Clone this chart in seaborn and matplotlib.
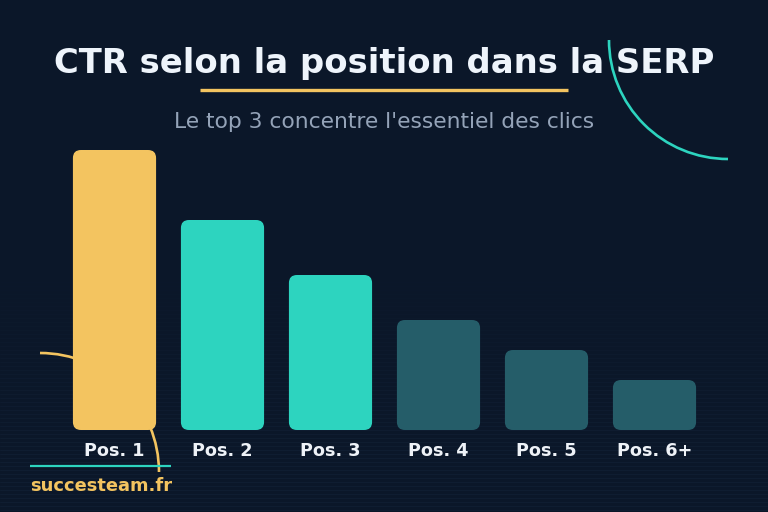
import numpy as np
import pandas as pd
import seaborn as sns
import matplotlib
matplotlib.use("Agg")
import matplotlib.pyplot as plt
from matplotlib.patches import FancyBboxPatch, Arc

# ---- data ----
categories = ["Pos. 1", "Pos. 2", "Pos. 3", "Pos. 4", "Pos. 5", "Pos. 6+"]
ctr_values = [28, 21, 15.5, 11, 8, 5]
bar_colors = ["#F3C460", "#2DD4BF", "#2DD4BF", "#255D69", "#255D69", "#255D69"]
title = "CTR selon la position dans la SERP"
subtitle = "Le top 3 concentre l'essentiel des clics"
brand = "succesteam.fr"

BG = "#0B1729"
YELLOW = "#F3C460"
TEAL = "#2DD4BF"

sns.set_theme(style="white")
plt.rcParams["font.family"] = ["DejaVu Sans"]

W, H = 768, 512
fig = plt.figure(figsize=(W / 100, H / 100), dpi=100, facecolor=BG)

# background axes in pixel coordinates
bg = fig.add_axes([0, 0, 1, 1], zorder=0)
bg.set_xlim(0, W)
bg.set_ylim(H, 0)
bg.axis("off")
bg.set_facecolor(BG)
bg.add_patch(plt.Rectangle((0, 0), W, H, color=BG, zorder=0))
# scanlines
for y in np.arange(262, H, 4):
    a = min(0.12, 0.12 * (y - 262) / 200)
    bg.plot([0, W], [y, y], color="#3a5a80", lw=0.6, alpha=a, zorder=1)
# decorative arcs
bg.add_patch(Arc((728, 40), 238, 238, theta1=90, theta2=180, color=TEAL, lw=1.9, zorder=2))
bg.add_patch(Arc((40, 472), 238, 238, theta1=270, theta2=360, color=YELLOW, lw=1.9, zorder=2))

# bar axes
ax = fig.add_axes([60.5 / W, 82 / H, 648 / W, 280 / H], zorder=1)
ax.patch.set_alpha(0)
df = pd.DataFrame({"pos": categories, "ctr": ctr_values})
sns.barplot(data=df, x="pos", y="ctr", hue="pos", palette=bar_colors,
            legend=False, width=0.77, ax=ax, saturation=1)
ax.set_xlim(-0.5, 5.5)
ax.set_ylim(0, max(ctr_values))
ax.axis("off")

# replace bars with rounded versions (same geometry)
fig.canvas.draw()
inv = bg.transData.inverted()
for p in list(ax.patches):
    ext = p.get_window_extent()
    (x0, y0), (x1, y1) = inv.transform([[ext.x0, ext.y0], [ext.x1, ext.y1]])
    top, bot = min(y0, y1), max(y0, y1)
    r = 8
    fb = FancyBboxPatch((x0 + r, top + r), (x1 - x0) - 2 * r, (bot - top) - 2 * r,
                        boxstyle=f"round,pad={r},rounding_size={r}",
                        fc=p.get_facecolor(), ec="none", zorder=5)
    p.set_visible(False)
    bg.add_patch(fb)

# labels under bars
for i, c in enumerate(categories):
    xd = ax.transData.transform([[i, 0]])[0]
    xp = inv.transform([xd])[0][0]
    bg.text(xp, 456, c, ha="center", va="baseline", color="#EEF2F7",
            fontsize=12.7, fontweight="bold", zorder=6)

# title, underline, subtitle
bg.text(384, 73, title, ha="center", va="baseline", color="#EEF4FB",
        fontsize=24.4, fontweight="bold", zorder=6)
bg.plot([200, 568], [90, 90], color=YELLOW, lw=2.4, solid_capstyle="butt", zorder=6)
bg.text(384, 128, subtitle, ha="center", va="baseline", color="#94A3B8",
        fontsize=15.7, zorder=6)

# brand
bg.plot([30, 171], [466, 466], color=TEAL, lw=1.6, solid_capstyle="butt", zorder=6)
bg.text(30, 491, brand, ha="left", va="baseline", color=YELLOW,
        fontsize=12.9, fontweight="bold", zorder=6)

fig.savefig("out.png", dpi=100, facecolor=BG)
